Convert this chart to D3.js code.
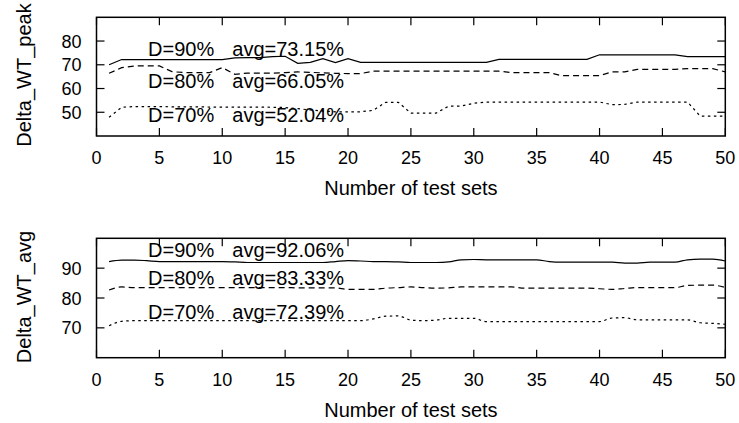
<!DOCTYPE html>
<html>
<head>
<meta charset="utf-8">
<script src="https://cdn.jsdelivr.net/npm/d3@7"></script>
<style>
  body { margin: 0; background: #fff; }
  text { font-family: "Liberation Sans", Arial, sans-serif; fill: #000; }
</style>
</head>
<body>
<div id="chart"></div>
<script>
var w = 739;
var h = 423;

// test set index 1..50
var testSets = d3.range(1, 51);
var xTicks = [0, 5, 10, 15, 20, 25, 30, 35, 40, 45, 50];

// Delta_WT_peak (top panel)
var peakD90 = [70, 72.2, 72.2, 72.2, 72.2, 72.2, 72.2, 72.2, 72.2, 72.2,
               72.9, 73, 73, 73.4, 73.6, 70.6, 71, 72.6, 70.9, 72.6,
               71, 71, 71, 71, 71, 71, 71, 71, 71, 71,
               71, 72.3, 72.3, 72.3, 72.3, 72.3, 72.3, 72.3, 72.3, 74.2,
               74.2, 74.2, 74.2, 74.2, 74.2, 74.2, 73.4, 73.4, 73.4, 73.4];
var peakD80 = [66.4, 68.8, 69.5, 69.5, 69.5, 67.1, 66.7, 66.7, 66.7, 68.8,
               66.0, 66.5, 66.5, 66.5, 66.7, 67.0, 66.8, 66.6, 66.4, 66.3,
               66.3, 67.3, 67.3, 67.3, 67.3, 67.3, 67.3, 67.3, 67.3, 67.3,
               67.3, 67.3, 66.7, 66.7, 66.7, 66.7, 65.4, 65.4, 65.4, 65.4,
               67.0, 67.0, 68.1, 68.1, 68.1, 68.1, 68.4, 68.4, 68.4, 67.0];
var peakD70 = [47.9, 52.1, 52.4, 52.4, 52.4, 52.3, 52.3, 52.3, 52.2, 52.2,
               52.2, 52.2, 52.2, 52.1, 52.0, 51.5, 51.0, 50.5, 50.2, 50.2,
               50.2, 50.8, 54.2, 54.2, 49.6, 49.6, 49.6, 52.6, 52.6, 53.8,
               54.3, 54.3, 54.3, 54.3, 54.3, 54.3, 54.3, 54.3, 54.3, 54.3,
               53.2, 53.3, 54.3, 54.3, 54.3, 54.3, 54.3, 48.4, 48.4, 48.4];

// Delta_WT_avg (bottom panel)
var avgD90 = [92.2, 92.7, 92.7, 92.5, 92.2, 92.2, 92.2, 92.2, 92.2, 92.2,
              92.1, 91.9, 91.9, 91.9, 91.9, 91.9, 91.9, 91.9, 92.2, 92.5,
              92.4, 92.2, 92.2, 92.1, 91.9, 91.9, 91.9, 92.1, 92.8, 92.9,
              92.8, 92.8, 92.8, 92.8, 92.8, 92.2, 92.0, 92.0, 92.0, 92.0,
              92.0, 91.7, 91.7, 92.0, 92.0, 92.0, 92.8, 93.0, 93.0, 92.4];
var avgD80 = [82.7, 83.7, 83.5, 83.5, 83.5, 83.5, 83.5, 83.5, 83.5, 83.5,
              83.5, 83.5, 83.5, 83.5, 83.5, 83.4, 83.4, 83.4, 83.4, 82.9,
              82.9, 82.9, 83.3, 83.5, 83.7, 83.5, 83.3, 83.4, 83.7, 83.7,
              83.7, 83.7, 83.7, 83.3, 83.3, 83.3, 83.3, 83.3, 83.3, 83.1,
              82.9, 83.2, 83.5, 83.5, 83.5, 83.5, 84.2, 84.3, 84.3, 83.5];
var avgD70 = [70.7, 72.2, 72.4, 72.4, 72.4, 72.4, 72.4, 72.4, 72.4, 72.4,
              72.4, 72.4, 72.4, 72.4, 72.4, 72.4, 72.4, 72.4, 72.4, 72.4,
              72.4, 73.0, 73.9, 74.0, 72.6, 72.4, 72.6, 73.2, 73.2, 73.2,
              72.1, 72.1, 72.1, 72.1, 72.1, 72.1, 72.1, 72.1, 72.1, 72.1,
              73.3, 73.4, 72.7, 72.7, 72.7, 72.7, 72.7, 71.7, 71.5, 71.2];

var seriesNames = ["D=90%", "D=80%", "D=70%"];
var peakAvgLabels = ["avg=73.15%", "avg=66.05%", "avg=52.04%"];
var avgAvgLabels = ["avg=92.06%", "avg=83.33%", "avg=72.39%"];

var dashes = [null, "6,4", "2.5,3.5"];

var svg = d3.select("#chart")
  .append("svg")
  .attr("width", w)
  .attr("height", h);

var x0 = 96.5, x1 = 725.3;

function drawPanel(p) {
  var x = d3.scaleLinear().domain([0, 50]).range([x0, x1]);
  var y = d3.scaleLinear().domain(p.yDomain).range([p.bottom, p.top]);
  var g = svg.append("g");
  var tickLen = 8;

  // lines
  var line = d3.line()
    .x(function(d) { return x(d[0]); })
    .y(function(d) { return y(d[1]); })
    .curve(p.curve);

  p.series.forEach(function(vals, i) {
    g.append("path")
      .datum(testSets.map(function(t, j) { return [t, vals[j]]; }))
      .attr("d", line)
      .attr("fill", "none")
      .attr("stroke", "#000")
      .attr("stroke-width", 1.2)
      .attr("stroke-dasharray", dashes[i]);
  });

  // annotations
  seriesNames.forEach(function(name, i) {
    g.append("text")
      .attr("x", x(4.1))
      .attr("y", y(p.labelY[i]))
      .style("font-size", "20px")
      .text(name);
    g.append("text")
      .attr("x", x(10.8))
      .attr("y", y(p.labelY[i]))
      .style("font-size", "20px")
      .text(p.avgLabels[i]);
  });

  // frame
  g.append("rect")
    .attr("x", x0).attr("y", p.top)
    .attr("width", x1 - x0).attr("height", p.bottom - p.top)
    .attr("fill", "none")
    .attr("stroke", "#000")
    .attr("stroke-width", 1.5);

  // x ticks, inward on bottom and top
  xTicks.forEach(function(t) {
    g.append("line")
      .attr("x1", x(t)).attr("x2", x(t))
      .attr("y1", p.bottom).attr("y2", p.bottom - tickLen)
      .attr("stroke", "#000").attr("stroke-width", 1.2);
    g.append("line")
      .attr("x1", x(t)).attr("x2", x(t))
      .attr("y1", p.top).attr("y2", p.top + tickLen)
      .attr("stroke", "#000").attr("stroke-width", 1.2);
    g.append("text")
      .attr("x", x(t))
      .attr("y", p.bottom + 28)
      .attr("text-anchor", "middle")
      .style("font-size", "18px")
      .text(t);
  });

  // y ticks, inward on left and right
  p.yTicks.forEach(function(t) {
    g.append("line")
      .attr("x1", x0).attr("x2", x0 + tickLen)
      .attr("y1", y(t)).attr("y2", y(t))
      .attr("stroke", "#000").attr("stroke-width", 1.2);
    g.append("line")
      .attr("x1", x1).attr("x2", x1 - tickLen)
      .attr("y1", y(t)).attr("y2", y(t))
      .attr("stroke", "#000").attr("stroke-width", 1.2);
    g.append("text")
      .attr("x", x0 - 15)
      .attr("y", y(t) + 6.5)
      .attr("text-anchor", "end")
      .style("font-size", "18px")
      .text(t);
  });

  // axis titles
  g.append("text")
    .attr("x", (x0 + x1) / 2)
    .attr("y", p.bottom + 59)
    .attr("text-anchor", "middle")
    .style("font-size", "20px")
    .text("Number of test sets");

  g.append("text")
    .attr("transform", "translate(31," + p.titleY + ") rotate(-90)")
    .attr("text-anchor", "middle")
    .style("font-size", "20px")
    .text(p.yTitle);
}

drawPanel({
  top: 17.3, bottom: 136,
  yDomain: [40, 90], yTicks: [50, 60, 70, 80],
  series: [peakD90, peakD80, peakD70],
  labelY: [73.7, 60.1, 45.8],
  avgLabels: peakAvgLabels,
  curve: d3.curveLinear,
  yTitle: "Delta_WT_peak", titleY: 75
});

drawPanel({
  top: 238.3, bottom: 357.7,
  yDomain: [60, 100], yTicks: [70, 80, 90],
  series: [avgD90, avgD80, avgD70],
  labelY: [93.7, 84.3, 72.8],
  avgLabels: avgAvgLabels,
  curve: d3.curveMonotoneX,
  yTitle: "Delta_WT_avg", titleY: 297
});
</script>
</body>
</html>
